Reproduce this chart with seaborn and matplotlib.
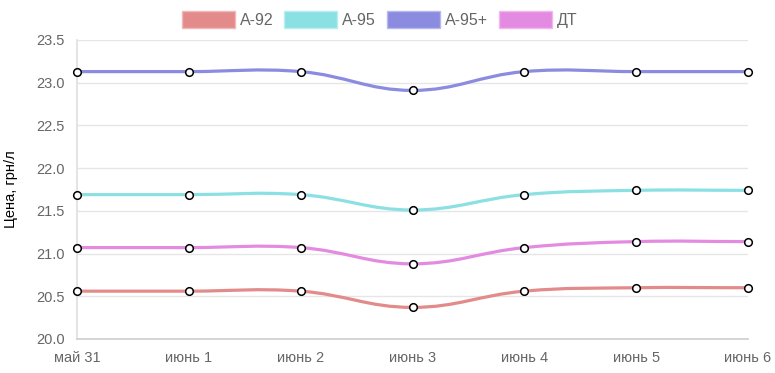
import numpy as np
import pandas as pd
import matplotlib
matplotlib.use("Agg")
import matplotlib.pyplot as plt
import seaborn as sns
from matplotlib.path import Path
from matplotlib.patches import PathPatch, Rectangle

# ---- data ----
dates = ["май 31", "июнь 1", "июнь 2", "июнь 3", "июнь 4", "июнь 5", "июнь 6"]
a92 = [20.56, 20.56, 20.56, 20.37, 20.56, 20.60, 20.60]
a95 = [21.69, 21.69, 21.69, 21.51, 21.69, 21.74, 21.74]
a95p = [23.13, 23.13, 23.13, 22.91, 23.13, 23.13, 23.13]
dt = [21.07, 21.07, 21.07, 20.88, 21.07, 21.14, 21.14]
series_names = ["А-92", "А-95", "А-95+", "ДТ"]
series_vals = [a92, a95, a95p, dt]
colors = ["#e38b8b", "#8be0e3", "#8b8be0", "#e38be0"]
edge_colors = ["#f0b8b8", "#b8eef0", "#b8b8f0", "#f0b8ee"]
yticks = [20.0, 20.5, 21.0, 21.5, 22.0, 22.5, 23.0, 23.5]

sns.set_theme(style="white")
plt.rcParams['font.family'] = ['Liberation Sans', 'DejaVu Sans']

W, H = 775, 373
fig = plt.figure(figsize=(W / 100, H / 100), dpi=100)
left, right, top, bottom = 77, 748, 40, 339
ax = fig.add_axes([left / W, 1 - bottom / H, (right - left) / W, (bottom - top) / H])

rows = []
for name, vals in zip(series_names, series_vals):
    for i, (d, v) in enumerate(zip(dates, vals)):
        rows.append({"x": i, "date": d, "price": v, "fuel": name})
df = pd.DataFrame(rows)

ax.set_xlim(0, 6)
ax.set_ylim(20.0, 23.5)


def smooth_path(xs, ys, tension=0.4):
    pts = ax.transData.transform(np.column_stack([xs, ys]))
    n = len(pts)
    cps = []
    for i in range(n):
        prev = pts[max(i - 1, 0)]
        cur = pts[i]
        nxt = pts[min(i + 1, n - 1)]
        d01 = np.hypot(*(cur - prev))
        d12 = np.hypot(*(nxt - cur))
        s01 = d01 / (d01 + d12) if (d01 + d12) > 0 else 0
        s12 = d12 / (d01 + d12) if (d01 + d12) > 0 else 0
        fa = tension * s01
        fb = tension * s12
        cp_prev = cur - fa * (nxt - prev)
        cp_next = cur + fb * (nxt - prev)
        cps.append((cp_prev, cp_next))
    verts = [pts[0]]
    codes = [Path.MOVETO]
    for i in range(1, n):
        verts += [cps[i - 1][1], cps[i][0], pts[i]]
        codes += [Path.CURVE4] * 3
    verts = ax.transData.inverted().transform(np.array(verts))
    return Path(verts, codes)


for name, vals, c in zip(series_names, series_vals, colors):
    sub = df[df.fuel == name]
    p = smooth_path(sub.x.values.astype(float), sub.price.values)
    ax.add_patch(PathPatch(p, facecolor="none", edgecolor=c, lw=2.3,
                           capstyle="round", joinstyle="round", zorder=3))

sns.scatterplot(data=df, x="x", y="price", ax=ax, color="white", edgecolor="black",
                linewidth=1.1, s=30, zorder=5, legend=False, clip_on=False)

ax.set_yticks(yticks)
ax.set_yticklabels([f"{v:.1f}" for v in yticks])
ax.set_xticks(range(len(dates)))
ax.set_xticklabels(dates)
ax.tick_params(axis="both", length=0, labelsize=10.5, labelcolor="#666666")
ax.tick_params(axis="y", pad=9)
ax.tick_params(axis="x", pad=9)
ax.grid(axis="y", color="#e6e6e6", lw=1)
ax.grid(axis="x", visible=False)
for s in ["top", "right"]:
    ax.spines[s].set_visible(False)
ax.spines["left"].set_color("#e0e0e0")
ax.spines["bottom"].set_color("#d0d0d0")
ax.set_xlabel("")
ax.set_ylabel("Цена, грн/л", fontsize=10.5, color="black")
ax.yaxis.set_label_coords((18 - left) / (right - left), (bottom - 189) / (bottom - top))

handles = [Rectangle((0, 0), 1, 1, facecolor=c, edgecolor=e, lw=1)
           for c, e in zip(colors, edge_colors)]
leg = fig.legend(handles, series_names, loc="center", bbox_to_anchor=(0.49, 1 - 19.5 / H),
                 ncol=4, frameon=False, fontsize=11.5, handlelength=3.3, handleheight=1.2,
                 handletextpad=0.32, columnspacing=0.7)
for t in leg.get_texts():
    t.set_color("#666666")

fig.savefig("out.png", dpi=100)
